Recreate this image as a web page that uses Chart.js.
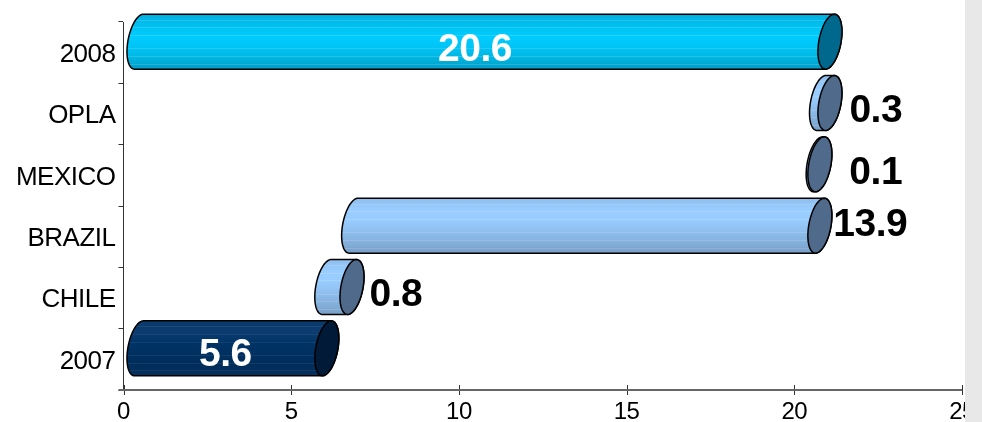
<!DOCTYPE html>
<html>
<head>
<meta charset="utf-8">
<script src="https://cdn.jsdelivr.net/npm/chart.js@4/dist/chart.umd.min.js"></script>
<style>
html,body{margin:0;padding:0;background:#fff;overflow:hidden}
#wrap{position:relative;width:982px;height:422px}
#panel{position:absolute;left:965px;top:0;width:17px;height:422px;background:#e8e8e8}
canvas{display:block}
</style>
</head>
<body>
<div id="wrap"><canvas id="c" width="982" height="422"></canvas><div id="panel"></div></div>
<script>
const categories = ['2008','OPLA','MEXICO','BRAZIL','CHILE','2007'];
const starts = [0, 20.35, 20.25, 6.4, 5.6, 0];
const ends = [20.6, 20.6, 20.3, 20.3, 6.35, 5.6];
const labels = ['20.6','0.3','0.1','13.9','0.8','5.6'];
const xTicks = [0,5,10,15,20,25];

const cyan = {stops:['#00aee0','#00c0f0','#00ccff','#00c4f5','#00b4e0','#009dc6'],cap:'#00688c',text:'#fff',line:0.14};
const sky = {stops:['#8dbdec','#99ccff','#99ccff','#8fbfef','#84b0dc','#779fc6'],cap:'#506a8c',text:'#000',line:0.14};
const navy = {stops:['#0a3a6c','#0c3c70','#003366','#003060','#002d5a','#06305e'],cap:'#001a38',text:'#fff',line:0.07};
const palette = [cyan, sky, sky, sky, sky, navy];
const labelShift = [[6,-2,'c'],[35,-3,'l'],[45,-2,'l'],[29,-11,'l'],[33,-3,'l'],[8,-4,'c']];

const DEPTH = 15.5, LIFT = 11, RX = 11.2, SKEW = -0.16;

function capPath(ctx, cx, cy, ry, from, to, move) {
  const n = 40;
  for (let i = 0; i <= n; i++) {
    const t = from + (to - from) * i / n;
    const ey = ry * Math.sin(t);
    const x = cx + RX * Math.cos(t) + SKEW * ey;
    const y = cy + ey;
    if (i === 0 && move) ctx.moveTo(x, y); else ctx.lineTo(x, y);
  }
}

const cylinders = {
  id: 'cylinders',
  beforeDraw(chart) { chart.ctx.letterSpacing = '-0.5px'; },
  afterDatasetsDraw(chart) {
    const ctx = chart.ctx;
    const els = chart.getDatasetMeta(0).data;
    const order = [5,4,3,2,1,0];
    ctx.save();
    order.forEach(i => {
      const el = els[i];
      const p = palette[i];
      const xs = el.base + DEPTH, xe = el.x + DEPTH;
      const cy = el.y - LIFT, ry = el.height / 2;
      ctx.beginPath();
      capPath(ctx, xs, cy, ry, -Math.PI/2, -Math.PI*1.5, true);
      capPath(ctx, xe, cy, ry, Math.PI/2, -Math.PI/2, false);
      ctx.closePath();
      const g = ctx.createLinearGradient(0, cy - ry, 0, cy + ry);
      p.stops.forEach((c, k) => g.addColorStop(k / (p.stops.length - 1), c));
      ctx.fillStyle = g;
      ctx.fill();
      ctx.save();
      ctx.clip();
      ctx.strokeStyle = 'rgba(255,255,255,' + p.line + ')';
      ctx.lineWidth = 1;
      [0.1,0.24,0.38,0.62,0.76,0.9].forEach(f => {
        const yy = Math.round(cy - ry + 2 * ry * f) + 0.5;
        ctx.beginPath();
        ctx.moveTo(xs - 20, yy);
        ctx.lineTo(xe + 20, yy);
        ctx.stroke();
      });
      ctx.restore();
      ctx.strokeStyle = '#000';
      ctx.lineWidth = 1.5;
      ctx.beginPath();
      capPath(ctx, xs, cy, ry, -Math.PI/2, -Math.PI*1.5, true);
      capPath(ctx, xe, cy, ry, Math.PI/2, -Math.PI/2, false);
      ctx.closePath();
      ctx.stroke();
      ctx.beginPath();
      capPath(ctx, xe, cy, ry, 0, Math.PI*2, true);
      ctx.closePath();
      ctx.fillStyle = p.cap;
      ctx.fill();
      ctx.stroke();
    });
    ctx.font = 'bold 39px "Liberation Sans"';
    ctx.textBaseline = 'middle';
    els.forEach((el, i) => {
      const [dx, dy, mode] = labelShift[i];
      ctx.fillStyle = palette[i].text;
      if (mode === 'c') {
        ctx.textAlign = 'center';
        ctx.fillText(labels[i], (el.base + el.x) / 2 + dx, el.y + dy);
      } else {
        ctx.textAlign = 'left';
        ctx.fillText(labels[i], el.x + dx, el.y + dy);
      }
    });
    const xs = chart.scales.x, ys = chart.scales.y;
    ctx.strokeStyle = '#333';
    ctx.lineWidth = 1;
    xTicks.forEach(v => {
      const px = Math.round(xs.getPixelForValue(v)) + 0.5;
      ctx.beginPath();
      ctx.moveTo(px, ys.bottom - 5);
      ctx.lineTo(px, ys.bottom + 5);
      ctx.stroke();
    });
    ctx.strokeStyle = '#666';
    ctx.lineWidth = 2;
    ctx.beginPath();
    ctx.moveTo(xs.left - 5, ys.bottom);
    ctx.lineTo(xs.right, ys.bottom);
    ctx.stroke();
    ctx.restore();
  }
};

new Chart(document.getElementById('c'), {
  type: 'bar',
  data: {
    labels: categories,
    datasets: [{
      data: starts.map((s, i) => [s, ends[i]]),
      backgroundColor: 'rgba(0,0,0,0)',
      borderWidth: 0,
      barThickness: 55
    }]
  },
  options: {
    indexAxis: 'y',
    responsive: false,
    animation: false,
    layout: {padding: {top: 22, right: 20, left: 0, bottom: 0}},
    plugins: {legend: {display: false}, tooltip: {enabled: false}},
    scales: {
      x: {
        min: 0, max: 25,
        afterFit(s) { s.height = 32; },
        afterBuildTicks(s) { s.ticks = xTicks.map(v => ({value: v})); },
        grid: {display: false},
        border: {display: false},
        ticks: {color: '#000', font: {family: '"Liberation Sans"', size: 24}, padding: 0, maxRotation: 0, autoSkip: false}
      },
      y: {
        afterFit(s) { s.width = 123.5; },
        grid: {drawOnChartArea: false, drawTicks: true, tickLength: 5, color: '#333', offset: true},
        border: {display: true, color: '#333', width: 1},
        ticks: {color: '#000', font: {family: '"Liberation Sans"', size: 26}, padding: 3, labelOffset: 2, autoSkip: false}
      }
    }
  },
  plugins: [cylinders]
});
</script>
</body>
</html>
